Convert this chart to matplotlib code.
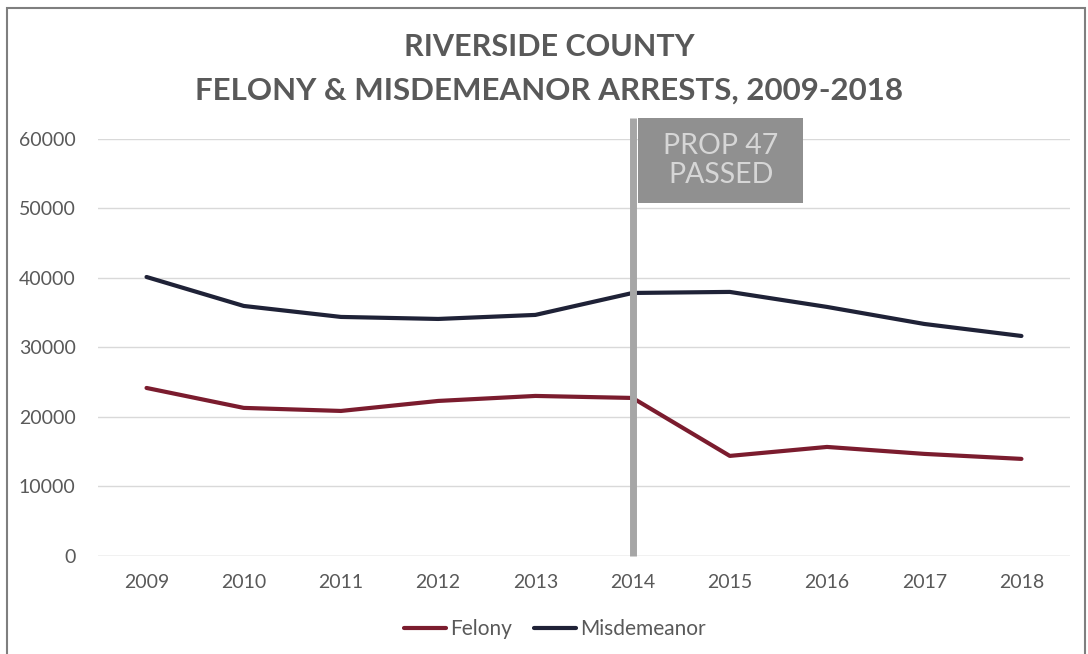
import matplotlib
matplotlib.use("Agg")
import matplotlib.pyplot as plt
from matplotlib.patches import Rectangle

plt.rcParams["font.family"] = ["Lato", "DejaVu Sans"]

# --- data ---
years = [2009, 2010, 2011, 2012, 2013, 2014, 2015, 2016, 2017, 2018]
felony = [24170, 21300, 20860, 22300, 23020, 22730, 14390, 15680, 14680, 13960]
misdemeanor = [40140, 35970, 34390, 34100, 34680, 37840, 37990, 35830, 33380, 31650]
yticks = [0, 10000, 20000, 30000, 40000, 50000, 60000]
prop47_year = 2014

txt = "#595959"
fig = plt.figure(figsize=(10.88, 6.54), dpi=100)
ax = fig.add_axes([0.090, 0.150, 0.8935, 0.6375])

ax.plot(years, felony, color="#7b1c2e", lw=3, label="Felony", solid_capstyle="round")
ax.plot(years, misdemeanor, color="#1f2237", lw=3, label="Misdemeanor", solid_capstyle="round")

ax.set_xlim(2008.5, 2018.5)
ax.set_ylim(0, 60000)
ax.set_xticks(years)
ax.set_yticks(yticks)
ax.tick_params(length=0, labelsize=14, colors=txt, pad=13)
ax.tick_params(axis="y", pad=16)
ax.grid(axis="y", color="#d9d9d9", lw=1)
ax.set_axisbelow(True)
for s in ax.spines.values():
    s.set_visible(False)
ax.axhline(0, color="#d9d9d9", lw=1, zorder=1)

# Prop 47 marker
ax.plot([prop47_year, prop47_year], [0, 63000], color="#a6a6a6", lw=5,
        clip_on=False, zorder=4, solid_capstyle="butt")
ax.add_patch(Rectangle((prop47_year + 0.06, 50800), 1.69, 12200,
                       facecolor="#909090", edgecolor="none", clip_on=False, zorder=5))
ax.text(prop47_year + 0.905, 56900, "PROP 47\nPASSED", ha="center", va="center",
        fontsize=20.5, color="#d6d6d6", linespacing=1.1, zorder=6)

fig.text(0.505, 0.928, "RIVERSIDE COUNTY", ha="center", va="center",
         fontsize=22, fontweight="bold", color=txt)
fig.text(0.505, 0.862, "FELONY & MISDEMEANOR ARRESTS, 2009-2018", ha="center",
         va="center", fontsize=22.5, fontweight="bold", color=txt)

leg = fig.legend(loc="center", bbox_to_anchor=(0.51, 0.038), ncol=2, frameon=False,
                 fontsize=15, handlelength=2, columnspacing=1.1, handletextpad=0.2)
for t in leg.get_texts():
    t.set_color(txt)

# outer frame
fig.patches.append(Rectangle((0.006, -0.01), 0.991, 0.998, transform=fig.transFigure,
                             fill=False, edgecolor="#7f7f7f", lw=1.5))

fig.savefig("out.png", dpi=100)
